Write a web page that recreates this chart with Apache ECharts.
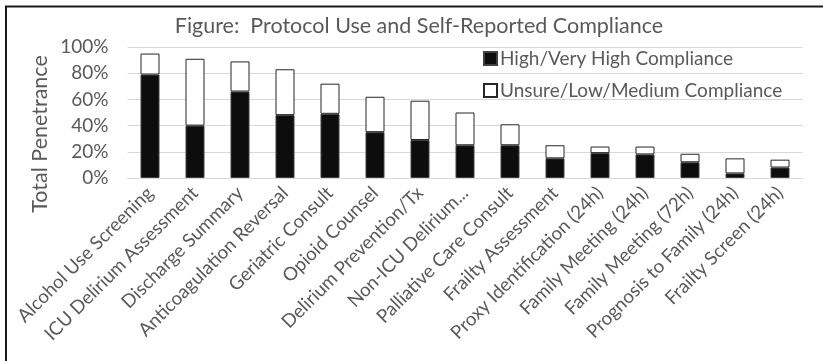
<!DOCTYPE html>
<html>
<head>
<meta charset="utf-8">
<script src="https://cdn.jsdelivr.net/npm/echarts@6/dist/echarts.min.js"></script>
<style>
  html, body { margin: 0; padding: 0; background: #fff; }
  #main { width: 823px; height: 361px; }
</style>
</head>
<body>
<div id="main"></div>
<script>
// 数据
const categories = [
  'Alcohol Use Screening', 'ICU Delirium Assessment', 'Discharge Summary',
  'Anticoagulation Reversal', 'Geriatric Consult', 'Opioid Counsel',
  'Delirium Prevention/Tx', 'Non-ICU Delirium...', 'Palliative Care Consult',
  'Frailty Assessment', 'Proxy Identification (24h)', 'Family Meeting (24h)',
  'Family Meeting (72h)', 'Prognosis to Family (24h)', 'Frailty Screen (24h)'
]
const highCompliance = [79, 40, 66, 48, 49, 35, 29, 25, 25, 15, 19, 18, 12, 3.5, 8]
const lowCompliance = [16, 51, 23, 35, 23, 27, 30, 25, 16, 10, 5, 6, 6.5, 11.5, 6]
const yTicks = [0, 20, 40, 60, 80, 100]

const font = 'Lato'
const grey = '#595959'

const chart = echarts.init(document.getElementById('main'))

chart.setOption({
  animation: false,
  textStyle: { fontFamily: font },
  title: {
    text: 'Figure:  Protocol Use and Self-Reported Compliance',
    left: 414,
    textAlign: 'center',
    top: 10,
    textStyle: { fontFamily: font, fontSize: 21.5, fontWeight: 'normal', color: grey }
  },
  legend: {
    orient: 'vertical',
    left: 478,
    top: 44,
    itemWidth: 13,
    itemHeight: 13,
    itemGap: 13,
    icon: 'rect',
    textStyle: { fontFamily: font, fontSize: 19, color: grey, padding: [0, 0, 0, -2] },
    data: ['High/Very High Compliance', 'Unsure/Low/Medium Compliance']
  },
  grid: { left: 127.5, right: 20.5, top: 47, bottom: 183 },
  xAxis: {
    type: 'category',
    data: categories,
    axisLine: { lineStyle: { color: '#d9d9d9' } },
    axisTick: { show: false },
    axisLabel: {
      rotate: 45,
      interval: 0,
      margin: 12,
      fontFamily: font,
      fontSize: 18.7,
      color: grey
    }
  },
  yAxis: {
    type: 'value',
    min: yTicks[0],
    max: yTicks[yTicks.length - 1],
    interval: 20,
    axisLine: { show: false },
    axisTick: { show: false },
    splitLine: { lineStyle: { color: '#d9d9d9' } },
    axisLabel: {
      margin: 19,
      fontFamily: font,
      fontSize: 19,
      color: grey,
      formatter: v => v + '%'
    }
  },
  series: [
    {
      name: 'High/Very High Compliance',
      type: 'bar',
      stack: 'total',
      barWidth: 19,
      itemStyle: { color: '#0d0d0d', borderColor: '#404040', borderWidth: 1 },
      data: highCompliance
    },
    {
      name: 'Unsure/Low/Medium Compliance',
      type: 'bar',
      stack: 'total',
      barWidth: 19,
      itemStyle: { color: '#ffffff', borderColor: '#262626', borderWidth: 1 },
      data: lowCompliance
    }
  ],
  graphic: [
    { type: 'line', shape: { x1: 5, y1: 6.5, x2: 823, y2: 6.5 }, style: { stroke: '#1a1a1a', lineWidth: 2 } },
    { type: 'line', shape: { x1: 6, y1: 6, x2: 6, y2: 361 }, style: { stroke: '#1a1a1a', lineWidth: 2 } },
    {
      type: 'text',
      x: 40,
      y: 134,
      rotation: Math.PI / 2,
      style: {
        text: 'Total Penetrance',
        fontFamily: font,
        fontSize: 21.5,
        fill: grey,
        align: 'center',
        verticalAlign: 'middle'
      }
    }
  ]
})
</script>
</body>
</html>
